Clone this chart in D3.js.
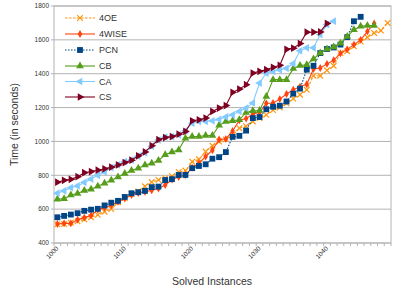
<!DOCTYPE html>
<html>
<head>
<meta charset="utf-8">
<script src="https://cdn.jsdelivr.net/npm/d3@7"></script>
<style>
  body { margin: 0; background: #fff; }
  text { font-family: "Liberation Sans", Arial, sans-serif; fill: #333; }
</style>
</head>
<body>
<svg width="399" height="299"></svg>
<script>
// categories (solved instances) and tick labels
const instances = [1000,1001,1002,1003,1004,1005,1006,1007,1008,1009,
                   1010,1011,1012,1013,1014,1015,1016,1017,1018,1019,
                   1020,1021,1022,1023,1024,1025,1026,1027,1028,1029,
                   1030,1031,1032,1033,1034,1035,1036,1037,1038,1039,
                   1040,1041,1042,1043,1044,1045,1046,1047,1048,1049];
const xTicks = [1000, 1010, 1020, 1030, 1040];
const yTicks = [400, 600, 800, 1000, 1200, 1400, 1600, 1800];

// time (s) per solved instance
const s4OE  = [510,512,520,528,540,552,566,585,600,640,665,690,705,735,760,773,783,795,820,828,
               880,895,940,975,999,1012,1036,1078,1090,1118,1138,1157,1185,1200,1225,1253,1276,1305,1388,1388,
               1420,1447,1522,1533,1562,1590,1615,1641,1655,1700];
const s4WISE = [512,516,516,538,550,563,597,609,623,644,663,683,695,702,712,722,743,775,790,802,
                845,871,911,948,1011,1015,1062,1125,1135,1160,1172,1225,1227,1250,1280,1305,1323,1338,1428,1434,
                1458,1480,1520,1544,1572,1600,1650,1697];
const sPCN  = [552,560,568,576,590,597,602,622,638,649,672,694,700,708,730,733,772,777,802,802,
               842,855,865,898,907,937,1027,1033,1064,1138,1144,1190,1205,1211,1236,1282,1312,1424,1447,1522,
               1546,1555,1572,1616,1710,1736];
const sCB   = [658,662,684,692,710,718,735,753,771,790,810,828,842,861,871,887,921,937,950,1019,
               1029,1029,1035,1035,1095,1118,1122,1128,1171,1181,1183,1266,1365,1365,1365,1430,1449,1453,1487,1522,
               1546,1558,1580,1620,1660,1680,1684,1684];
const sCA   = [694,708,727,737,758,778,800,820,845,862,880,890,913,932,972,1008,1025,1029,1039,1063,
               1108,1118,1118,1122,1130,1145,1157,1177,1197,1227,1345,1404,1414,1422,1432,1460,1535,1553,1553,1631,
               1690,1710];
const sCS   = [759,770,776,792,815,822,830,838,848,861,875,889,915,938,975,1010,1023,1029,1043,1059,
               1122,1128,1138,1177,1197,1212,1290,1309,1335,1404,1414,1424,1438,1450,1544,1551,1578,1645,1645,1647,
               1697];

const series = [
  { name: "4OE",   values: s4OE,   color: "#ff950e", dash: "2.5,1.5", marker: "times" },
  { name: "4WISE", values: s4WISE, color: "#ff420e", dash: null,      marker: "diamond" },
  { name: "PCN",   values: sPCN,   color: "#004586", dash: "1.5,1.5", marker: "square" },
  { name: "CB",    values: sCB,    color: "#579d1c", dash: null,      marker: "up" },
  { name: "CA",    values: sCA,    color: "#83caff", dash: null,      marker: "left" },
  { name: "CS",    values: sCS,    color: "#7e0021", dash: null,      marker: "right" }
];

const plotL = 54, plotR = 391, plotT = 6, plotB = 243;
const svg = d3.select("svg");

const x = d3.scaleBand().domain(instances).range([plotL, plotR]);
const cx = (c) => x(c) + x.bandwidth() / 2;
const y = d3.scaleLinear().domain([400, 1800]).range([plotB, plotT]);

// grid + frame
svg.append("g").selectAll("line").data(yTicks).join("line")
    .attr("x1", plotL).attr("x2", plotR)
    .attr("y1", d => y(d)).attr("y2", d => y(d))
    .attr("stroke", "#b3b3b3").attr("stroke-width", 1);
svg.append("rect")
    .attr("x", plotL).attr("y", plotT).attr("width", plotR - plotL).attr("height", plotB - plotT)
    .attr("fill", "none").attr("stroke", "#b3b3b3");

// y axis ticks + labels
svg.append("g").selectAll("line").data(yTicks).join("line")
    .attr("x1", plotL - 3).attr("x2", plotL)
    .attr("y1", d => y(d)).attr("y2", d => y(d))
    .attr("stroke", "#b3b3b3");
svg.append("g").selectAll("text").data(yTicks).join("text")
    .attr("x", plotL - 5).attr("y", d => y(d)).attr("dy", "0.35em")
    .attr("text-anchor", "end").attr("font-size", 6.5)
    .text(d => d);

// x axis minor ticks at category edges
const edges = instances.map(c => x(c)).concat([plotR]);
svg.append("g").selectAll("line").data(edges).join("line")
    .attr("x1", d => d).attr("x2", d => d)
    .attr("y1", plotB).attr("y2", plotB + 3)
    .attr("stroke", "#b3b3b3");
svg.append("g").selectAll("text").data(xTicks).join("text")
    .attr("transform", d => `translate(${cx(d) + 1.5},${plotB + 6}) rotate(-45)`)
    .attr("text-anchor", "end").attr("font-size", 6.5)
    .text(d => d);

// axis titles
svg.append("text")
    .attr("x", 212).attr("y", 285)
    .attr("text-anchor", "middle").attr("font-size", 10.5)
    .text("Solved Instances");
svg.append("text")
    .attr("transform", `translate(18,${(plotT + plotB) / 2}) rotate(-90)`)
    .attr("text-anchor", "middle").attr("font-size", 10.5)
    .text("Time (in seconds)");

function markerPath(type) {
    if (type === "times") return "M-2.8,-2.8L2.8,2.8M-2.8,2.8L2.8,-2.8";
    if (type === "diamond") return d3.symbol(d3.symbolDiamond, 18)();
    if (type === "square") return d3.symbol(d3.symbolSquare, 34)();
    return d3.symbol(d3.symbolTriangle, 26)();
}
function markerRotate(type) {
    if (type === "left") return -90;
    if (type === "right") return 90;
    return 0;
}
function drawMarker(g, s, px, py) {
    const m = g.append("path")
        .attr("d", markerPath(s.marker))
        .attr("transform", `translate(${px},${py}) rotate(${markerRotate(s.marker)})`);
    if (s.marker === "times") m.attr("fill", "none").attr("stroke", s.color).attr("stroke-width", 1.2);
    else m.attr("fill", s.color);
}

const line = d3.line()
    .x((d, i) => cx(instances[i]))
    .y(d => y(d));

series.forEach(s => {
    const g = svg.append("g");
    g.append("path")
        .attr("d", line(s.values))
        .attr("fill", "none")
        .attr("stroke", s.color)
        .attr("stroke-width", 1.1)
        .attr("stroke-dasharray", s.dash);
    s.values.forEach((v, i) => drawMarker(g, s, cx(instances[i]), y(v)));
});

// legend
const legY = [18, 34, 50, 66, 81.5, 97];
series.forEach((s, i) => {
    const g = svg.append("g");
    g.append("line")
        .attr("x1", 65).attr("x2", 95).attr("y1", legY[i]).attr("y2", legY[i])
        .attr("stroke", s.color).attr("stroke-width", 1.1)
        .attr("stroke-dasharray", s.dash);
    drawMarker(g, s, 80, legY[i]);
    g.append("text")
        .attr("x", 99).attr("y", legY[i]).attr("dy", "0.35em")
        .attr("font-size", 9)
        .text(s.name);
});
</script>
</body>
</html>
